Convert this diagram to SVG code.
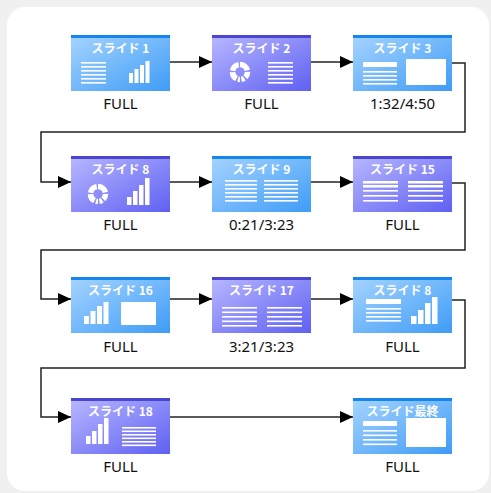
<svg xmlns="http://www.w3.org/2000/svg" width="491" height="493" viewBox="0 0 491 493">
<defs>
<linearGradient id="gb" x1="0" y1="0" x2="1" y2="1">
<stop offset="0" stop-color="#a6d4ff"/>
<stop offset="1" stop-color="#3f9cf6"/>
</linearGradient>
<linearGradient id="gp" x1="0" y1="0" x2="1" y2="1">
<stop offset="0" stop-color="#b8b8ff"/>
<stop offset="1" stop-color="#5f60f2"/>
</linearGradient>
<marker id="ah" markerUnits="userSpaceOnUse" markerWidth="13" markerHeight="12" refX="13" refY="6" orient="auto">
<path d="M0,0 L13,6 L0,12 z" fill="#000"/>
</marker>
<style>
.bb{fill:url(#gb)}
.bp{fill:url(#gp)}
.tb{fill:#1486ee}
.tp{fill:#4a46d2}
.t{font-family:"Noto Sans CJK JP","Noto Sans",sans-serif;font-weight:bold;font-size:12px;fill:#fff;text-anchor:middle}
.l{font-family:"Noto Sans","Open Sans",sans-serif;font-size:15px;fill:#111;text-anchor:middle}
.w{fill:#fff}
.c{fill:none;stroke:#222;stroke-width:1.5}
.d{fill:none;stroke:#fff;stroke-width:5.5;stroke-dasharray:10 1.5 6 1.5 3 1.5 2 1.5 8 1.5 9 1.6}
</style>
</defs>
<rect width="491" height="493" fill="#f0f0f0"/>
<rect x="7" y="7" width="482" height="484" rx="18" fill="#fff"/>

<g id="connectors">
<path class="c" d="M170,62 H212" marker-end="url(#ah)"/>
<path class="c" d="M311,62 H353" marker-end="url(#ah)"/>
<path class="c" d="M452,63 H465 V132 H41 V182 H71" marker-end="url(#ah)"/>
<path class="c" d="M170,182 H212" marker-end="url(#ah)"/>
<path class="c" d="M311,182 H353" marker-end="url(#ah)"/>
<path class="c" d="M452,183 H465 V250 H41 V299 H71" marker-end="url(#ah)"/>
<path class="c" d="M170,299 H212" marker-end="url(#ah)"/>
<path class="c" d="M311,299 H353" marker-end="url(#ah)"/>
<path class="c" d="M452,300 H465 V368 H41 V417 H71" marker-end="url(#ah)"/>
<path class="c" d="M170,417 H353" marker-end="url(#ah)"/>
</g>

<g id="n1">
<rect class="bb" x="71" y="35" width="99" height="56"/><rect class="tb" x="71" y="35" width="99" height="3"/>
<text class="t" x="120.5" y="53">スライド 1</text>
<rect class="w" x="81" y="62" width="25" height="1.6"/><rect class="w" x="81" y="66" width="25" height="1.6"/><rect class="w" x="81" y="70" width="25" height="1.6"/><rect class="w" x="81" y="74" width="25" height="1.6"/><rect class="w" x="81" y="78" width="25" height="1.6"/><rect class="w" x="81" y="82" width="25" height="1.6"/>
<rect class="w" x="129" y="73" width="4" height="10"/><rect class="w" x="134.5" y="69" width="4" height="14"/><rect class="w" x="140" y="65" width="4" height="18"/><rect class="w" x="145.5" y="61" width="4" height="22"/>
<text class="l" x="120.5" y="109">FULL</text>
</g>

<g id="n2">
<rect class="bp" x="212" y="35" width="99" height="56"/><rect class="tp" x="212" y="35" width="99" height="3"/>
<text class="t" x="261.5" y="53">スライド 2</text>
<circle class="d" cx="240" cy="72" r="7.5" transform="rotate(-90 240 72)"/>
<rect class="w" x="268" y="62" width="25" height="1.6"/><rect class="w" x="268" y="66" width="25" height="1.6"/><rect class="w" x="268" y="70" width="25" height="1.6"/><rect class="w" x="268" y="74" width="25" height="1.6"/><rect class="w" x="268" y="78" width="25" height="1.6"/><rect class="w" x="268" y="82" width="25" height="1.6"/>
<text class="l" x="261.5" y="109">FULL</text>
</g>

<g id="n3">
<rect class="bb" x="353" y="35" width="99" height="56"/><rect class="tb" x="353" y="35" width="99" height="3"/>
<text class="t" x="402.5" y="53">スライド 3</text>
<rect class="w" x="363" y="62" width="34" height="5"/>
<rect class="w" x="363" y="71" width="34" height="1.6"/><rect class="w" x="363" y="75" width="34" height="1.6"/><rect class="w" x="363" y="79" width="34" height="1.6"/><rect class="w" x="363" y="83" width="34" height="1.6"/>
<rect class="w" x="406" y="59" width="40" height="26"/>
<text class="l" x="402.5" y="109">1:32/4:50</text>
</g>

<g id="n4">
<rect class="bp" x="71" y="156" width="99" height="56"/><rect class="tp" x="71" y="156" width="99" height="3"/>
<text class="t" x="120.5" y="174">スライド 8</text>
<circle class="d" cx="98" cy="194" r="7.5" transform="rotate(-90 98 194)"/>
<rect class="w" x="127" y="197" width="4.5" height="8"/><rect class="w" x="133" y="191" width="4.5" height="14"/><rect class="w" x="139" y="185" width="4.5" height="20"/><rect class="w" x="145" y="178" width="4.5" height="27"/>
<text class="l" x="120.5" y="230">FULL</text>
</g>

<g id="n5">
<rect class="bb" x="212" y="156" width="99" height="56"/><rect class="tb" x="212" y="156" width="99" height="3"/>
<text class="t" x="261.5" y="174">スライド 9</text>
<g class="w">
<rect x="225" y="180" width="32" height="1.6"/><rect x="225" y="184" width="32" height="1.6"/><rect x="225" y="188" width="32" height="1.6"/><rect x="225" y="192" width="32" height="1.6"/><rect x="225" y="196" width="32" height="1.6"/><rect x="225" y="200" width="32" height="1.6"/>
<rect x="264" y="180" width="34" height="1.6"/><rect x="264" y="184" width="34" height="1.6"/><rect x="264" y="188" width="34" height="1.6"/><rect x="264" y="192" width="34" height="1.6"/><rect x="264" y="196" width="34" height="1.6"/><rect x="264" y="200" width="34" height="1.6"/>
</g>
<text class="l" x="261.5" y="230">0:21/3:23</text>
</g>

<g id="n6">
<rect class="bp" x="353" y="156" width="99" height="56"/><rect class="tp" x="353" y="156" width="99" height="3"/>
<text class="t" x="402.5" y="174">スライド 15</text>
<g class="w">
<rect x="363" y="181" width="35" height="2.5"/><rect x="363" y="185" width="35" height="2.5"/><rect x="363" y="190" width="35" height="1.6"/><rect x="363" y="195" width="35" height="1.6"/><rect x="363" y="200" width="35" height="1.6"/>
<rect x="408" y="181" width="35" height="2.5"/><rect x="408" y="185" width="35" height="2.5"/><rect x="408" y="190" width="35" height="1.6"/><rect x="408" y="195" width="35" height="1.6"/><rect x="408" y="200" width="35" height="1.6"/>
</g>
<text class="l" x="402.5" y="230">FULL</text>
</g>

<g id="n7">
<rect class="bb" x="71" y="277" width="99" height="56"/><rect class="tb" x="71" y="277" width="99" height="3"/>
<text class="t" x="120.5" y="295">スライド 16</text>
<rect class="w" x="84" y="316" width="5" height="8"/><rect class="w" x="90.5" y="311" width="5" height="13"/><rect class="w" x="97" y="306" width="5" height="18"/><rect class="w" x="103.5" y="302" width="5" height="22"/>
<rect class="w" x="121" y="302" width="35" height="23"/>
<text class="l" x="120.5" y="352">FULL</text>
</g>

<g id="n8">
<rect class="bp" x="212" y="277" width="99" height="56"/><rect class="tp" x="212" y="277" width="99" height="3"/>
<text class="t" x="261.5" y="295">スライド 17</text>
<g class="w">
<rect x="222" y="307" width="35" height="1.6"/><rect x="222" y="311.5" width="35" height="1.6"/><rect x="222" y="316" width="35" height="1.6"/><rect x="222" y="320.5" width="35" height="1.6"/><rect x="222" y="325" width="35" height="1.6"/>
<rect x="267" y="307" width="35" height="1.6"/><rect x="267" y="311.5" width="35" height="1.6"/><rect x="267" y="316" width="35" height="1.6"/><rect x="267" y="320.5" width="35" height="1.6"/><rect x="267" y="325" width="35" height="1.6"/>
</g>
<text class="l" x="261.5" y="352">3:21/3:23</text>
</g>

<g id="n9">
<rect class="bb" x="353" y="277" width="99" height="56"/><rect class="tb" x="353" y="277" width="99" height="3"/>
<text class="t" x="402.5" y="295">スライド 8</text>
<rect class="w" x="366" y="299" width="35" height="5"/>
<rect class="w" x="366" y="308" width="35" height="1.6"/><rect class="w" x="366" y="312" width="35" height="1.6"/><rect class="w" x="366" y="316" width="35" height="1.6"/><rect class="w" x="366" y="320" width="35" height="1.6"/>
<rect class="w" x="411" y="316" width="5.5" height="8"/><rect class="w" x="418" y="310" width="5.5" height="14"/><rect class="w" x="425" y="303" width="5.5" height="21"/><rect class="w" x="432" y="297" width="5.5" height="27"/>
<text class="l" x="402.5" y="352">FULL</text>
</g>

<g id="n10">
<rect class="bp" x="71" y="398" width="99" height="56"/><rect class="tp" x="71" y="398" width="99" height="3"/>
<text class="t" x="120.5" y="416">スライド 18</text>
<rect class="w" x="86" y="436" width="4.5" height="8"/><rect class="w" x="92" y="431" width="4.5" height="13"/><rect class="w" x="98" y="424" width="4.5" height="20"/><rect class="w" x="104" y="418" width="4.5" height="26"/>
<g class="w"><rect x="122" y="427" width="34" height="1.6"/><rect x="122" y="430.5" width="34" height="1.6"/><rect x="122" y="434" width="34" height="1.6"/><rect x="122" y="437.5" width="34" height="1.6"/><rect x="122" y="441" width="34" height="1.6"/><rect x="122" y="444.5" width="34" height="1.6"/></g>
<text class="l" x="120.5" y="472">FULL</text>
</g>

<g id="n11">
<rect class="bb" x="353" y="398" width="99" height="56"/><rect class="tb" x="353" y="398" width="99" height="3"/>
<text class="t" x="402.5" y="416">スライド最終</text>
<rect class="w" x="363" y="421" width="34" height="5"/>
<rect class="w" x="363" y="430" width="34" height="1.6"/><rect class="w" x="363" y="434.5" width="34" height="1.6"/><rect class="w" x="363" y="439" width="34" height="1.6"/><rect class="w" x="363" y="443.5" width="34" height="1.6"/>
<rect class="w" x="406" y="418" width="40" height="29"/>
<text class="l" x="402.5" y="472">FULL</text>
</g>
</svg>
